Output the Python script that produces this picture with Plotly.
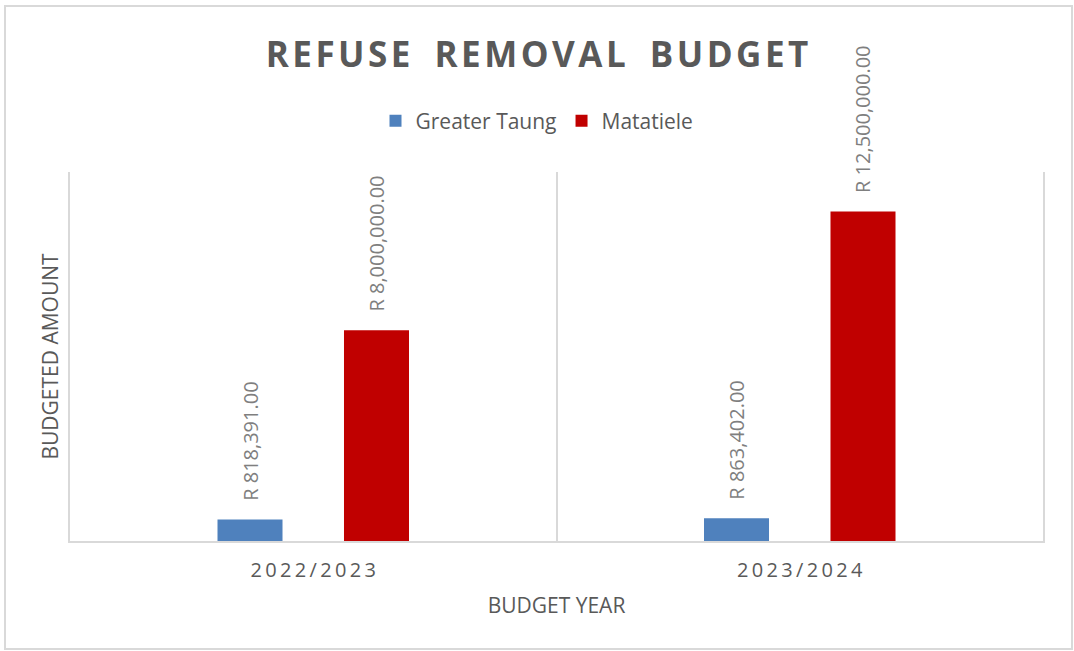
import plotly.graph_objects as go

years = ["2022/2023", "2023/2024"]
greater_taung = [818391.00, 863402.00]
matatiele = [8000000.00, 12500000.00]
series_names = ["Greater Taung", "Matatiele"]
title_text = "REFUSE REMOVAL BUDGET"
y_title = "BUDGETED AMOUNT"
x_title = "BUDGET YEAR"

def spaced(s, sep):
    return sep.join(list(s))

def fmt(v):
    return "\u00a0\u00a0\u00a0R " + f"{v:,.2f}"

W, H = 1074, 651
L, R, T, B = 70, 31, 172, 110
pw, ph = W - L - R, H - T - B

def px_x(x):
    return (x - L) / pw

def px_y(y):
    return (H - B - y) / ph

FONT = "Open Sans"
GRAY = "#595959"

title_html = "<b>" + "\u00a0\u00a0\u2009".join(spaced(w, "\u200a") for w in title_text.split(" ")) + "</b>"

fig = go.Figure()
for name, vals, col in [(series_names[0], greater_taung, "#4F81BD"),
                        (series_names[1], matatiele, "#C00000")]:
    fig.add_trace(go.Bar(
        x=years, y=vals, name=name,
        marker=dict(color=col, line=dict(width=0)),
        text=[fmt(v) for v in vals],
        textposition="outside", textangle=-90,
        constraintext="none", cliponaxis=False,
        textfont=dict(family=FONT, size=20, color="#7F7F7F"),
    ))

fig.update_layout(
    width=W, height=H,
    margin=dict(l=L, r=R, t=T, b=B),
    paper_bgcolor="white", plot_bgcolor="white",
    barmode="group", bargap=0.48, bargroupgap=0.486,
    title=dict(text=title_html,
               x=0.5, xref="container", xanchor="center",
               y=1 - 55 / H, yref="container", yanchor="middle",
               font=dict(family=FONT, size=35, color=GRAY)),
    legend=dict(orientation="h", x=px_x(537), xanchor="center",
                y=px_y(121), yanchor="middle",
                font=dict(family=FONT, size=21, color=GRAY),
                itemwidth=30, tracegroupgap=0),
    xaxis=dict(
        type="category", tickson="boundaries",
        tickvals=years, ticktext=[spaced(y, "\u2009") for y in years],
        showgrid=True, gridcolor="#D9D9D9", gridwidth=1.5,
        showline=True, linecolor="#D9D9D9", linewidth=1.5,
        ticks="", ticklabelstandoff=10,
        tickfont=dict(family=FONT, size=20, color=GRAY),
        title=dict(text=x_title, font=dict(family=FONT, size=21, color=GRAY), standoff=17),
        automargin=False, mirror=False,
    ),
    yaxis=dict(
        range=[0, 14000000], showgrid=False, zeroline=False,
        showticklabels=False, ticks="",
        showline=True, mirror=True, linecolor="#D9D9D9", linewidth=1.5,
        title=dict(text=y_title, font=dict(family=FONT, size=21, color=GRAY), standoff=4),
        automargin=False,
    ),
    shapes=[dict(type="rect", xref="paper", yref="paper",
                 x0=px_x(5), x1=px_x(1072), y0=px_y(649), y1=px_y(6),
                 line=dict(color="#D9D9D9", width=2), layer="below")],
)

fig.write_html("out.html", config={"displayModeBar": False},
               post_script="document.body.style.margin='0';")
